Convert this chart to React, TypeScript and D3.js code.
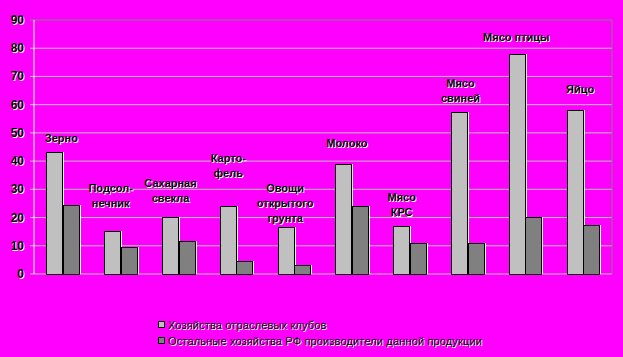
import React from "react";
import * as d3 from "d3";

const categories: string[][] = [
  ["Зерно"],
  ["Подсол-", "нечник"],
  ["Сахарная", "свекла"],
  ["Карто-", "фель"],
  ["Овощи", "открытого", "грунта"],
  ["Молоко"],
  ["Мясо", "КРС"],
  ["Мясо", "свиней"],
  ["Мясо птицы"],
  ["Яйцо"],
];
const clubFarms = [43.2, 15.1, 20.1, 24.1, 16.5, 39.0, 16.9, 57.4, 78.0, 58.1];
const otherFarms = [24.5, 9.5, 11.6, 4.5, 3.1, 24.1, 10.9, 10.9, 20.1, 17.4];
const labelValueTop = [48.2, 30.5, 32.2, 41.1, 30.5, 46.4, 27.3, 67.7, 84.0, 65.6];
const labelShift = [-1.5, -10, -8, -8, -9, -5, -8, -7, -9, -3];
const yTicks = [0, 10, 20, 30, 40, 50, 60, 70, 80, 90];
const seriesNames = [
  "Хозяйства отраслевых клубов",
  "Остальные хозяйства РФ производители данной продукции",
];
const seriesColors = ["#C0C0C0", "#808080"];

const W = 623;
const H = 357;
const plotL = 34;
const plotR = 612;
const plotT = 20;
const plotB = 274;

function ShadowText(props: any) {
  const { x, y, children, anchor = "middle", size = 11, weight = "bold", spacing = 0 } = props;
  const common = {
    textAnchor: anchor,
    fontFamily: "Arial, 'Liberation Sans', sans-serif",
    fontSize: size,
    fontWeight: weight,
    letterSpacing: spacing,
    dominantBaseline: "central" as any,
  };
  return (
    <g>
      <text x={x + 1} y={y + 1} fill="#FFFFFF" {...common}>{children}</text>
      <text x={x} y={y} fill="#000000" {...common}>{children}</text>
    </g>
  );
}

export default function App() {
  const y = d3.scaleLinear().domain([0, 90]).range([plotB, plotT]);
  const x = d3
    .scaleBand<number>()
    .domain(d3.range(categories.length))
    .range([plotL, plotR])
    .paddingInner(0.43)
    .paddingOuter(0.215);
  const sub = d3.scaleBand<number>().domain([0, 1]).range([0, x.bandwidth()]);
  const series = [clubFarms, otherFarms];

  return (
    <svg
      width={W}
      height={H}
      style={{ position: "absolute", left: 0, top: 0, display: "block" }}
    >
      <rect x={0} y={0} width={W} height={H} fill="#FF00FF" />
      {yTicks.map((t) => (
        <g key={t}>
          <line
            x1={plotL - 4}
            x2={plotR}
            y1={y(t)}
            y2={y(t)}
            stroke={t === 90 ? "#808080" : "#C0C0C0"}
            strokeWidth={1}
          />
          <ShadowText x={24} y={y(t)} anchor="end" size={12}>{t}</ShadowText>
        </g>
      ))}
      <line x1={plotR} x2={plotR} y1={plotT} y2={plotB} stroke="#808080" />
      <line x1={plotL} x2={plotL} y1={plotT} y2={plotB} stroke="#FFFFFF" />
      {categories.map((_, i) =>
        series.map((s, k) => {
          const bx = Math.round((x(i) as number) + (sub(k) as number));
          const bw = Math.round(sub.bandwidth());
          const top = Math.round(y(s[i]));
          return (
            <g key={`${i}-${k}`}>
              <line x1={bx + bw + 1.5} x2={bx + bw + 1.5} y1={top} y2={plotB} stroke="#FFFFFF" />
              <rect
                x={bx + 0.5}
                y={top + 0.5}
                width={bw}
                height={plotB - top}
                fill={seriesColors[k]}
                stroke="#000000"
                strokeWidth={1}
              />
            </g>
          );
        })
      )}
      {categories.map((lines, i) => {
        const cx = (x(i) as number) + x.bandwidth() / 2 + labelShift[i];
        const y0 = y(labelValueTop[i]);
        return (
          <g key={`lab-${i}`}>
            {lines.map((ln, j) => (
              <ShadowText key={j} x={cx} y={y0 + j * 15}>{ln}</ShadowText>
            ))}
          </g>
        );
      })}
      {seriesNames.map((name, k) => {
        const ly = 325 + k * 16;
        return (
          <g key={name}>
            <rect x={158.5} y={ly - 3.5} width={6} height={6} fill={seriesColors[k]} stroke="#000" />
            <ShadowText x={168} y={ly} anchor="start" weight="normal" size={11} spacing={0.15}>
              {name}
            </ShadowText>
          </g>
        );
      })}
    </svg>
  );
}
